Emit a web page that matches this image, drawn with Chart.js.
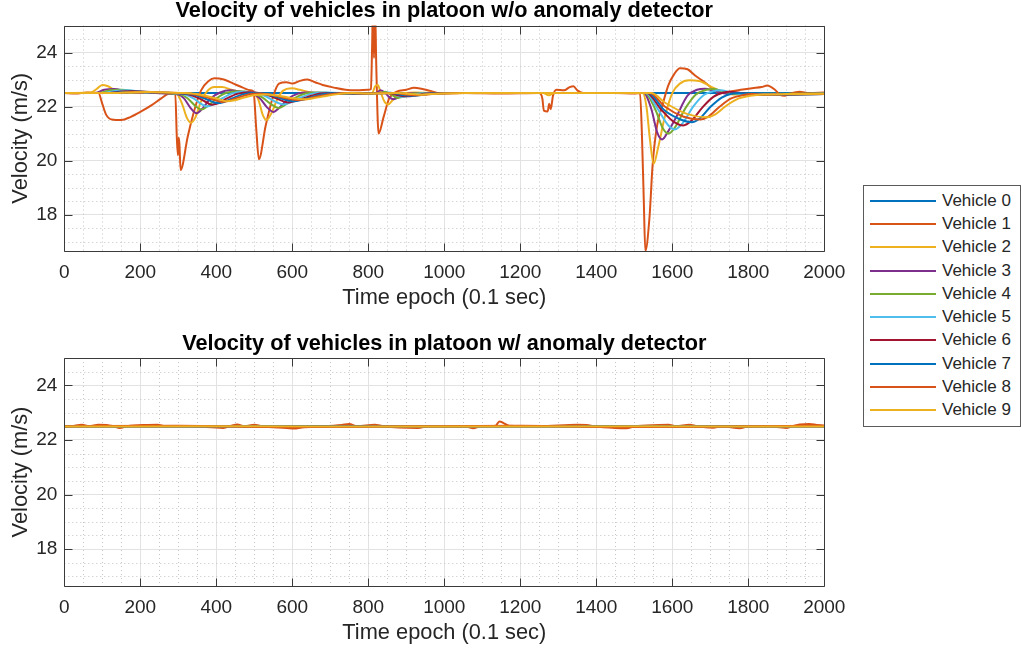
<!DOCTYPE html>
<html>
<head>
<meta charset="utf-8">
<script src="https://cdn.jsdelivr.net/npm/chart.js@4.4.1/dist/chart.umd.min.js"></script>
<style>
  body { margin: 0; background: #fff; width: 1021px; height: 652px; overflow: hidden; position: relative;
         font-family: "Liberation Sans", Arial, Helvetica, sans-serif; }
  #topChart { position: absolute; left: 0; top: 0; }
  #bottomChart { position: absolute; left: 0; top: 332px; }
  #legend { position: absolute; left: 863px; top: 185px; width: 158px; height: 242px; box-sizing: border-box;
            border: 1px solid #5a5a5a; background: #fff; padding-top: 3px; }
  .row { height: 23.3px; display: flex; align-items: center; }
  .swatch { width: 66px; height: 2px; margin-left: 6px; margin-right: 6px; }
  .name { font-size: 17px; color: #262626; white-space: nowrap; }
</style>
</head>
<body>
<canvas id="topChart" width="860" height="312"></canvas>
<canvas id="bottomChart" width="860" height="320"></canvas>
<div id="legend"></div>
<script>
// ---- data ----
const vehicleNames = ['Vehicle 0', 'Vehicle 1', 'Vehicle 2', 'Vehicle 3', 'Vehicle 4',
                      'Vehicle 5', 'Vehicle 6', 'Vehicle 7', 'Vehicle 8', 'Vehicle 9'];
const vehicleColors = ['#0072BD', '#D95319', '#EDB120', '#7E2F8E', '#77AC30',
                       '#4DBEEE', '#A2142F', '#0072BD', '#D95319', '#EDB120'];

const xTicks = [0, 200, 400, 600, 800, 1000, 1200, 1400, 1600, 1800, 2000];
const yTicks = [18, 20, 22, 24];

// without anomaly detector: [epoch, velocity]
const topV0 = [[0, 22.5], [2000, 22.5]];
const topV1 = [[0, 22.5], [30, 22.48], [60, 22.52], [90, 22.5], [100, 22.1], [110, 21.7], [125, 21.52], [150, 21.5],
  [175, 21.62], [200, 21.8], [230, 22.05], [255, 22.3], [275, 22.48], [292, 22.5], [296, 20.9], [299, 20.2],
  [301, 20.85], [303, 20.6], [306, 19.65], [325, 20.9], [345, 22.0], [360, 22.6], [380, 22.95], [395, 23.05],
  [420, 23.0], [445, 22.85], [470, 22.7], [490, 22.6], [498, 22.55], [505, 21.2], [512, 20.05], [530, 21.3],
  [550, 22.4], [565, 22.85], [585, 22.9], [600, 22.85], [620, 22.95], [640, 23.0], [660, 22.9], [680, 22.8],
  [710, 22.7], [740, 22.62], [770, 22.6], [800, 22.62], [807, 22.65], [810, 24.2], [812, 25.6], [815, 23.8],
  [818, 25.6], [821, 23.5], [827, 21.0], [840, 21.6], [855, 22.3], [875, 22.55], [900, 22.62], [920, 22.7],
  [945, 22.64], [970, 22.55], [990, 22.48], [1050, 22.5], [1150, 22.48], [1250, 22.5], [1258, 22.3],
  [1262, 21.85], [1272, 21.82], [1276, 22.1], [1280, 21.9], [1286, 22.4], [1295, 22.62], [1315, 22.6],
  [1330, 22.72], [1340, 22.75], [1350, 22.6], [1365, 22.5], [1450, 22.5], [1500, 22.48], [1515, 22.5],
  [1520, 21.0], [1525, 18.5], [1529, 16.65], [1540, 17.9], [1548, 19.8], [1560, 21.3], [1575, 22.1],
  [1590, 22.8], [1605, 23.2], [1620, 23.42], [1640, 23.38], [1660, 23.15], [1685, 22.9], [1710, 22.62],
  [1725, 22.5], [1750, 22.55], [1780, 22.62], [1810, 22.68], [1835, 22.72], [1850, 22.78], [1870, 22.62],
  [1885, 22.42], [1895, 22.4], [1910, 22.48], [1935, 22.55], [1960, 22.5], [2000, 22.52]];
const topV2 = [[0, 22.5], [70, 22.52], [85, 22.65], [100, 22.8], [115, 22.75], [135, 22.6], [170, 22.52],
  [250, 22.5], [295, 22.48], [310, 22.1], [322, 21.6], [333, 21.4], [345, 21.6], [360, 22.2], [375, 22.55],
  [395, 22.72], [415, 22.72], [440, 22.62], [470, 22.52], [500, 22.48], [512, 22.2], [522, 21.7], [532, 21.5],
  [545, 21.75], [560, 22.25], [575, 22.58], [600, 22.68], [620, 22.62], [650, 22.52], [700, 22.46],
  [780, 22.47], [810, 22.5], [818, 22.75], [825, 22.8], [832, 22.55], [842, 22.2], [852, 22.08], [865, 22.25],
  [885, 22.45], [920, 22.52], [1000, 22.5], [1260, 22.5], [1275, 22.42], [1290, 22.5], [1522, 22.5],
  [1532, 22.0], [1541, 20.8], [1551, 19.88], [1563, 20.5], [1580, 21.6], [1600, 22.5], [1620, 22.85],
  [1645, 22.97], [1670, 22.95], [1700, 22.75], [1730, 22.55], [1760, 22.45], [1850, 22.45], [2000, 22.48]];
const topV3 = [[0, 22.5], [80, 22.5], [105, 22.62], [130, 22.65], [170, 22.55], [240, 22.5], [300, 22.45],
  [315, 22.3], [332, 21.95], [348, 21.75], [365, 21.95], [385, 22.3], [410, 22.52], [436, 22.6], [465, 22.55],
  [495, 22.48], [515, 22.3], [533, 21.98], [550, 21.8], [568, 21.98], [590, 22.3], [615, 22.48], [640, 22.52],
  [680, 22.5], [760, 22.47], [820, 22.5], [832, 22.6], [845, 22.5], [855, 22.35], [866, 22.27], [880, 22.35],
  [905, 22.48], [950, 22.5], [1525, 22.5], [1545, 21.9], [1560, 21.05], [1573, 20.78], [1590, 21.1],
  [1610, 21.6], [1640, 22.4], [1665, 22.62], [1686, 22.66], [1710, 22.58], [1740, 22.48], [1800, 22.45],
  [2000, 22.48]];
const topV4 = [[0, 22.5], [90, 22.5], [120, 22.6], [150, 22.62], [190, 22.55], [260, 22.5], [305, 22.45],
  [325, 22.3], [345, 22.02], [361, 21.89], [378, 22.02], [400, 22.3], [425, 22.5], [455, 22.57], [490, 22.52],
  [520, 22.35], [545, 22.08], [563, 21.95], [580, 22.05], [605, 22.3], [635, 22.48], [670, 22.52],
  [760, 22.47], [830, 22.5], [845, 22.55], [860, 22.45], [878, 22.32], [895, 22.38], [920, 22.48],
  [960, 22.5], [1528, 22.5], [1555, 21.9], [1575, 21.2], [1590, 21.0], [1608, 21.25], [1635, 21.95],
  [1662, 22.45], [1690, 22.62], [1708, 22.65], [1735, 22.56], [1770, 22.46], [2000, 22.48]];
const topV5 = [[0, 22.5], [100, 22.5], [135, 22.58], [165, 22.6], [210, 22.53], [280, 22.5], [315, 22.45],
  [340, 22.3], [360, 22.1], [375, 22.0], [392, 22.08], [415, 22.3], [440, 22.48], [470, 22.55], [505, 22.5],
  [530, 22.38], [560, 22.15], [577, 22.08], [595, 22.15], [620, 22.32], [650, 22.47], [690, 22.52],
  [760, 22.48], [840, 22.5], [858, 22.52], [875, 22.42], [890, 22.36], [910, 22.4], [935, 22.48],
  [980, 22.5], [1530, 22.5], [1562, 21.9], [1590, 21.3], [1607, 21.15], [1627, 21.38], [1655, 22.0],
  [1683, 22.43], [1708, 22.57], [1726, 22.6], [1755, 22.52], [1790, 22.46], [2000, 22.47]];
const topV6 = [[0, 22.5], [110, 22.5], [150, 22.56], [180, 22.58], [230, 22.52], [290, 22.5], [325, 22.45],
  [355, 22.3], [375, 22.15], [388, 22.07], [405, 22.12], [428, 22.3], [455, 22.47], [485, 22.53],
  [520, 22.48], [545, 22.38], [575, 22.2], [590, 22.15], [608, 22.2], [635, 22.33], [665, 22.46],
  [705, 22.5], [770, 22.48], [850, 22.5], [885, 22.4], [905, 22.38], [925, 22.42], [955, 22.48],
  [1000, 22.5], [1533, 22.5], [1570, 21.9], [1605, 21.42], [1629, 21.3], [1650, 21.47], [1680, 21.98],
  [1708, 22.36], [1735, 22.52], [1750, 22.55], [1780, 22.5], [1815, 22.44], [2000, 22.46]];
const topV7 = [[0, 22.5], [120, 22.5], [165, 22.55], [195, 22.56], [245, 22.52], [300, 22.5], [335, 22.45],
  [370, 22.3], [390, 22.18], [401, 22.13], [418, 22.16], [442, 22.3], [470, 22.45], [500, 22.5],
  [535, 22.45], [560, 22.35], [590, 22.22], [603, 22.2], [622, 22.24], [650, 22.35], [680, 22.46],
  [720, 22.5], [780, 22.48], [860, 22.5], [895, 22.42], [918, 22.4], [940, 22.43], [970, 22.48],
  [1020, 22.5], [1537, 22.5], [1580, 21.85], [1625, 21.5], [1651, 21.42], [1672, 21.56], [1700, 21.98],
  [1730, 22.33], [1758, 22.48], [1775, 22.5], [1805, 22.46], [1850, 22.43], [2000, 22.46]];
const topV8 = [[0, 22.5], [130, 22.5], [175, 22.54], [210, 22.55], [260, 22.52], [310, 22.5], [345, 22.45],
  [385, 22.3], [405, 22.2], [414, 22.17], [430, 22.2], [455, 22.32], [485, 22.45], [515, 22.48],
  [550, 22.42], [580, 22.32], [605, 22.25], [617, 22.24], [635, 22.27], [665, 22.37], [700, 22.46],
  [740, 22.5], [790, 22.48], [870, 22.5], [905, 22.44], [930, 22.42], [955, 22.45], [985, 22.48],
  [1040, 22.5], [1541, 22.5], [1580, 22.0], [1630, 21.62], [1673, 21.52], [1695, 21.63], [1725, 22.0],
  [1755, 22.3], [1785, 22.42], [1810, 22.46], [1850, 22.44], [2000, 22.46]];
const topV9 = [[0, 22.5], [140, 22.5], [185, 22.53], [225, 22.54], [275, 22.52], [320, 22.5], [355, 22.45],
  [400, 22.3], [418, 22.22], [427, 22.2], [445, 22.22], [470, 22.32], [500, 22.43], [530, 22.45],
  [565, 22.4], [595, 22.32], [620, 22.28], [632, 22.27], [652, 22.3], [685, 22.38], [720, 22.46],
  [760, 22.5], [800, 22.48], [880, 22.5], [915, 22.46], [940, 22.44], [965, 22.46], [995, 22.48],
  [1060, 22.5], [1545, 22.5], [1580, 22.15], [1640, 21.72], [1690, 21.6], [1712, 21.7], [1742, 22.03],
  [1775, 22.3], [1805, 22.4], [1840, 22.45], [1900, 22.46], [2000, 22.47]];

// with anomaly detector
const bottomFlat = [[0, 22.5], [2000, 22.5]];
const bottomV1 = [[0, 22.48], [20, 22.5], [46, 22.56], [65, 22.5], [90, 22.56], [112, 22.55], [130, 22.5],
  [146, 22.44], [165, 22.5], [220, 22.55], [245, 22.56], [265, 22.5], [330, 22.5], [418, 22.44], [440, 22.52],
  [455, 22.57], [475, 22.5], [500, 22.56], [520, 22.5], [585, 22.44], [605, 22.42], [625, 22.46], [680, 22.5],
  [730, 22.55], [750, 22.58], [770, 22.5], [817, 22.56], [840, 22.5], [930, 22.44], [960, 22.5],
  [1060, 22.48], [1076, 22.43], [1095, 22.5], [1135, 22.52], [1145, 22.68], [1158, 22.6], [1170, 22.52],
  [1250, 22.5], [1350, 22.56], [1375, 22.55], [1395, 22.5], [1450, 22.44], [1480, 22.43], [1500, 22.5],
  [1565, 22.55], [1590, 22.56], [1610, 22.5], [1645, 22.56], [1665, 22.5], [1707, 22.45], [1730, 22.5],
  [1778, 22.43], [1795, 22.48], [1850, 22.5], [1900, 22.44], [1915, 22.5], [1935, 22.57], [1960, 22.58],
  [1980, 22.55], [2000, 22.52]];
const bottomV2 = [[0, 22.49], [400, 22.5], [800, 22.49], [1200, 22.5], [1600, 22.49], [2000, 22.5]];
const bottomV8 = [[0, 22.5], [300, 22.52], [600, 22.47], [900, 22.5], [1200, 22.52], [1500, 22.47],
  [1800, 22.5], [2000, 22.52]];
const bottomV9 = [[0, 22.49], [500, 22.5], [1000, 22.49], [1500, 22.5], [2000, 22.49]];

const topSeries = [topV0, topV1, topV2, topV3, topV4, topV5, topV6, topV7, topV8, topV9];
const bottomSeries = [bottomFlat, bottomV1, bottomV2, bottomFlat, bottomFlat, bottomFlat, bottomFlat,
  bottomFlat, bottomV8, bottomV9];

// ---- layout ----
const PLOT_LEFT = 64.3;
const PLOT_RIGHT = 824.3;
const Y_MIN = 16.65;
const Y_MAX = 25;

Chart.defaults.font.family = '"Liberation Sans", Arial, Helvetica, sans-serif';
Chart.defaults.color = '#262626';

// MATLAB-like minor grid, box and inward tick marks
const matlabAxes = {
  id: 'matlabAxes',
  beforeDatasetsDraw(chart) {
    const { ctx, chartArea: a, scales: { x, y } } = chart;
    ctx.save();
    ctx.strokeStyle = '#c4c4c4';
    ctx.lineWidth = 1;
    ctx.setLineDash([1, 3]);
    ctx.beginPath();
    for (let v = 50; v < 2000; v += 50) {
      if (v % 200 === 0) continue;
      const px = Math.round(x.getPixelForValue(v)) + 0.5;
      ctx.moveTo(px, a.top);
      ctx.lineTo(px, a.bottom);
    }
    for (let v = 17; v < Y_MAX; v += 0.5) {
      if (v % 2 === 0) continue;
      const py = Math.round(y.getPixelForValue(v)) + 0.5;
      ctx.moveTo(a.left, py);
      ctx.lineTo(a.right, py);
    }
    ctx.stroke();
    ctx.restore();
  },
  afterDatasetsDraw(chart) {
    const { ctx, chartArea: a, scales: { x, y } } = chart;
    const L = Math.round(a.left) + 0.5, R = Math.round(a.right) + 0.5;
    const T = Math.round(a.top) + 0.5, B = Math.round(a.bottom) + 0.5;
    ctx.save();
    ctx.strokeStyle = '#3a3a3a';
    ctx.lineWidth = 1;
    ctx.beginPath();
    ctx.rect(L, T, R - L, B - T);
    xTicks.forEach(v => {
      const px = Math.round(x.getPixelForValue(v)) + 0.5;
      ctx.moveTo(px, B); ctx.lineTo(px, B - 8);
      ctx.moveTo(px, T); ctx.lineTo(px, T + 8);
    });
    yTicks.forEach(v => {
      const py = Math.round(y.getPixelForValue(v)) + 0.5;
      ctx.moveTo(L, py); ctx.lineTo(L + 8, py);
      ctx.moveTo(R, py); ctx.lineTo(R - 8, py);
    });
    ctx.stroke();
    ctx.restore();
  }
};

function makeChart(id, title, series, box) {
  const canvas = document.getElementById(id);
  return new Chart(canvas, {
    type: 'line',
    data: {
      datasets: series.map((pts, i) => ({
        label: vehicleNames[i],
        data: pts.map(p => ({ x: p[0], y: p[1] })),
        borderColor: vehicleColors[i],
        backgroundColor: vehicleColors[i],
        borderWidth: 2,
        pointRadius: 0,
        fill: false,
        cubicInterpolationMode: 'monotone',
        order: series.length - i
      }))
    },
    options: {
      responsive: false,
      animation: false,
      devicePixelRatio: 1,
      layout: { padding: { left: 0, right: canvas.width - PLOT_RIGHT, top: 0, bottom: 0 } },
      plugins: {
        legend: { display: false },
        tooltip: { enabled: false },
        title: {
          display: true, text: title, fullSize: false, color: '#000',
          font: { size: 21.7, weight: 'bold' },
          padding: { top: box.titleTop, bottom: box.titleBottom }
        }
      },
      scales: {
        x: {
          type: 'linear', min: 0, max: 2000,
          afterBuildTicks: s => { s.ticks = xTicks.map(v => ({ value: v })); },
          afterFit: s => { s.height = canvas.height - box.plotBottom; s.paddingLeft = 0; s.paddingRight = 0; },
          ticks: { font: { size: 19 }, padding: 10, maxRotation: 0, autoSkip: false,
                   callback: v => String(v) },
          grid: { color: '#e2e2e2', drawTicks: false },
          border: { display: false },
          title: { display: true, text: 'Time epoch (0.1 sec)', font: { size: 21.8 },
                   padding: { top: 0, bottom: box.xTitleBottom } }
        },
        y: {
          type: 'linear', min: Y_MIN, max: Y_MAX,
          afterBuildTicks: s => { s.ticks = yTicks.map(v => ({ value: v })); },
          afterFit: s => { s.width = PLOT_LEFT; s.paddingTop = 0; s.paddingBottom = 0; },
          ticks: { font: { size: 19 }, padding: 7, callback: v => String(v) },
          grid: { color: '#e2e2e2', drawTicks: false },
          border: { display: false },
          title: { display: true, text: 'Velocity (m/s)', font: { size: 21.8 },
                   padding: { top: 8, bottom: 0 } }
        }
      }
    },
    plugins: [matlabAxes]
  });
}

makeChart('topChart', 'Velocity of vehicles in platoon w/o anomaly detector', topSeries,
  { titleTop: -2, titleBottom: 1.5, plotBottom: 251, xTitleBottom: 1.4 });
makeChart('bottomChart', 'Velocity of vehicles in platoon w/ anomaly detector', bottomSeries,
  { titleTop: -1, titleBottom: 1, plotBottom: 254, xTitleBottom: 6.4 });

// legend
const legend = document.getElementById('legend');
vehicleNames.forEach((name, i) => {
  const row = document.createElement('div');
  row.className = 'row';
  const sw = document.createElement('span');
  sw.className = 'swatch';
  sw.style.background = vehicleColors[i];
  const label = document.createElement('span');
  label.className = 'name';
  label.textContent = name;
  row.appendChild(sw);
  row.appendChild(label);
  legend.appendChild(row);
});
</script>
</body>
</html>
